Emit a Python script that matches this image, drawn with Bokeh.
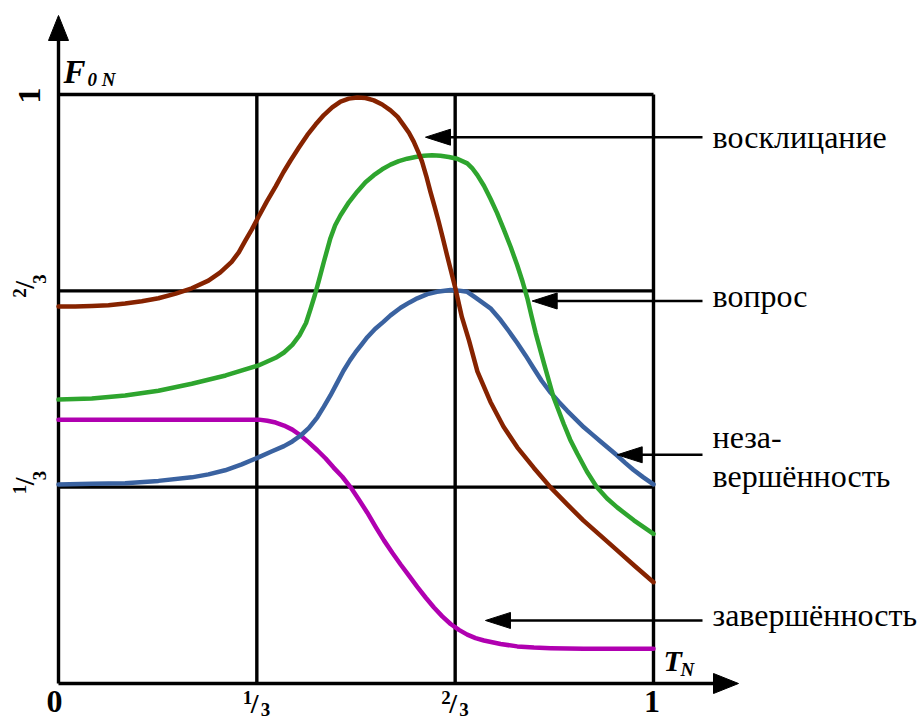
import math
from bokeh.plotting import figure
from bokeh.models import Range1d
from bokeh.core.properties import value
from bokeh.embed import file_html
from bokeh.resources import INLINE

# ---------------- data (normalised time T_N, normalised F0_N) ----------------
excl_t = [0.0, 0.028, 0.056, 0.084, 0.112, 0.140, 0.168, 0.197, 0.224, 0.252, 0.272,
          0.291, 0.303, 0.314, 0.325, 0.336, 0.350, 0.365, 0.378, 0.390, 0.404, 0.418,
          0.432, 0.446, 0.460, 0.474, 0.488, 0.502, 0.516, 0.530, 0.544, 0.558, 0.570,
          0.580, 0.589, 0.597, 0.604, 0.611, 0.618, 0.625, 0.632, 0.639, 0.646, 0.653,
          0.660, 0.667, 0.678, 0.690, 0.704, 0.726, 0.748, 0.771, 0.799, 0.827, 0.855,
          0.882, 0.911, 0.939, 0.969, 1.0]
excl_v = [0.640, 0.640, 0.641, 0.642, 0.645, 0.649, 0.654, 0.662, 0.671, 0.684, 0.698,
          0.716, 0.732, 0.752, 0.771, 0.792, 0.818, 0.844, 0.868, 0.888, 0.910, 0.931,
          0.949, 0.965, 0.978, 0.988, 0.993, 0.995, 0.994, 0.990, 0.983, 0.973, 0.962,
          0.948, 0.935, 0.920, 0.904, 0.886, 0.862, 0.835, 0.810, 0.784, 0.756, 0.727,
          0.699, 0.671, 0.622, 0.582, 0.530, 0.478, 0.436, 0.401, 0.366, 0.333, 0.304,
          0.277, 0.251, 0.226, 0.199, 0.172]

quest_t = [0.0, 0.056, 0.112, 0.168, 0.224, 0.281, 0.336, 0.365, 0.379, 0.393, 0.405,
           0.416, 0.424, 0.431, 0.437, 0.446, 0.457, 0.465, 0.474, 0.488, 0.502, 0.516,
           0.530, 0.544, 0.558, 0.572, 0.586, 0.600, 0.614, 0.628, 0.642, 0.656, 0.670,
           0.687, 0.696, 0.704, 0.715, 0.726, 0.737, 0.748, 0.760, 0.771, 0.780, 0.788,
           0.795, 0.802, 0.816, 0.832, 0.849, 0.860, 0.872, 0.888, 0.905, 0.922, 0.939,
           0.967, 1.0]
quest_v = [0.482, 0.484, 0.489, 0.497, 0.509, 0.523, 0.540, 0.553, 0.562, 0.575, 0.591,
           0.612, 0.637, 0.660, 0.682, 0.716, 0.756, 0.778, 0.795, 0.817, 0.835, 0.851,
           0.863, 0.873, 0.881, 0.887, 0.891, 0.894, 0.896, 0.897, 0.896, 0.894, 0.891,
           0.883, 0.874, 0.863, 0.845, 0.823, 0.799, 0.772, 0.741, 0.710, 0.682, 0.654,
           0.624, 0.595, 0.543, 0.486, 0.441, 0.414, 0.390, 0.360, 0.333, 0.314, 0.299,
           0.277, 0.254]

incompl_t = [0.0, 0.056, 0.112, 0.168, 0.224, 0.252, 0.280, 0.308, 0.336, 0.358, 0.379,
             0.393, 0.407, 0.421, 0.435, 0.446, 0.457, 0.468, 0.479, 0.490, 0.499, 0.509,
             0.519, 0.532, 0.546, 0.558, 0.575, 0.590, 0.603, 0.620, 0.636, 0.659, 0.673,
             0.687, 0.701, 0.715, 0.726, 0.743, 0.757, 0.771, 0.785, 0.798, 0.812, 0.827,
             0.841, 0.855, 0.869, 0.883, 0.897, 0.911, 0.925, 0.939, 0.952, 0.966, 0.983,
             1.0]
incompl_v = [0.338, 0.339, 0.340, 0.344, 0.350, 0.355, 0.362, 0.372, 0.384, 0.394, 0.403,
             0.411, 0.421, 0.434, 0.452, 0.470, 0.489, 0.510, 0.531, 0.549, 0.562, 0.575,
             0.588, 0.602, 0.614, 0.625, 0.638, 0.647, 0.654, 0.661, 0.665, 0.668, 0.667,
             0.665, 0.655, 0.645, 0.637, 0.617, 0.598, 0.578, 0.557, 0.536, 0.514, 0.494,
             0.478, 0.463, 0.449, 0.435, 0.423, 0.411, 0.399, 0.387, 0.375, 0.363, 0.350,
             0.338]

compl_t = [0.0, 0.155, 0.250, 0.323, 0.337, 0.351, 0.365, 0.379, 0.393, 0.407, 0.421,
           0.435, 0.449, 0.462, 0.477, 0.491, 0.505, 0.519, 0.533, 0.547, 0.561, 0.575,
           0.589, 0.603, 0.617, 0.631, 0.645, 0.659, 0.673, 0.687, 0.701, 0.715, 0.729,
           0.743, 0.771, 0.799, 0.827, 0.883, 1.0]
compl_v = [0.448, 0.448, 0.448, 0.448, 0.448, 0.446, 0.443, 0.438, 0.431, 0.421, 0.409,
           0.396, 0.382, 0.367, 0.351, 0.333, 0.312, 0.290, 0.266, 0.243, 0.222, 0.202,
           0.183, 0.164, 0.146, 0.129, 0.114, 0.101, 0.091, 0.083, 0.077, 0.073, 0.070,
           0.067, 0.063, 0.061, 0.060, 0.059, 0.059]

grid_vals = [1/3, 2/3, 1.0]
frac_ticks = [1/3, 2/3]
frac_num = ["1", "2"]
frac_den = ["3", "3"]

# annotations: arrow level (F0_N), arrow tip (T_N), label lines
ann_level = [0.9275, 0.6494, 0.3883, 0.1070]
ann_tip = [0.6168, 0.7961, 0.9390, 0.7176]
ann_lines = [["восклицание"], ["вопрос"], ["неза-", "вершённость"], ["завершённость"]]
ann_line_dy = [[10], [6], [-7.6, 31.7], [5]]   # baseline offsets (px) from arrow level

colors = {"excl": "#862300", "quest": "#2ea52e", "incompl": "#3a62a0", "compl": "#b000b0"}

# ---------------- figure ----------------
W, H = 921, 720
PXX, PXY = 595.0, 589.0     # pixels per unit
OX, OY = 58, 683            # canvas px of the origin (from left / from top)
SX, SY = 1 / PXX, 1 / PXY
K_BASE = 0.33               # correction: renderer anchors text ~0.33 em above baseline

p = figure(width=W, height=H, output_backend="svg", toolbar_location=None,
           x_range=Range1d(-OX / PXX, (W - OX) / PXX),
           y_range=Range1d(-(H - OY) / PXY, OY / PXY),
           x_axis_type=None, y_axis_type=None, outline_line_color=None,
           min_border=0, min_border_left=0, min_border_right=0,
           min_border_top=0, min_border_bottom=0, background_fill_color="white")
p.xgrid.visible = False
p.ygrid.visible = False

FONT = value("Liberation Serif")


def txt(x, y, s, size, style="bold", dx=0, dy=0, angle=0.0, align="left",
        baseline="alphabetic"):
    if angle == 0.0:
        dy = dy - K_BASE * size
    else:
        dx = dx - K_BASE * size
    p.text(x=[x], y=[y], text=[s], text_font=FONT, text_font_size=value(f"{size}px"),
           text_font_style=value(style), text_align=value(align),
           text_baseline=value(baseline), x_offset=dx, y_offset=dy, angle=angle,
           text_color="black")


LW_GRID = 3.4
# grid lines
for g in grid_vals:
    p.line([0, 1], [g, g], line_color="black", line_width=LW_GRID)
    p.line([g, g], [0, 1], line_color="black", line_width=LW_GRID)

# axes with arrows
x_tip = 1.0 + 85 * SX
y_tip = 1.0 + 79 * SY
p.line([0, x_tip - 25 * SX], [0, 0], line_color="black", line_width=LW_GRID)
p.line([0, 0], [0, y_tip - 25 * SY], line_color="black", line_width=LW_GRID)
p.patch([x_tip, x_tip - 25 * SX, x_tip - 25 * SX], [0, 10 * SY, -10 * SY], color="black")
p.patch([0, -10 * SX, 10 * SX], [y_tip, y_tip - 25 * SY, y_tip - 25 * SY], color="black")

# curves
LW = 4.5
p.line(compl_t, compl_v, line_color=colors["compl"], line_width=LW, line_cap="round", line_join="round")
p.line(incompl_t, incompl_v, line_color=colors["incompl"], line_width=LW, line_cap="round", line_join="round")
p.line(quest_t, quest_v, line_color=colors["quest"], line_width=LW, line_cap="round", line_join="round")
p.line(excl_t, excl_v, line_color=colors["excl"], line_width=LW, line_cap="round", line_join="round")

# annotation arrows and labels
ann_end = 1.0 + 49 * SX
ann_text_x = 1.0 + 59 * SX
for lvl, tip, lines, dys in zip(ann_level, ann_tip, ann_lines, ann_line_dy):
    p.line([tip + 24 * SX, ann_end], [lvl, lvl], line_color="black", line_width=2.6)
    p.patch([tip, tip + 25 * SX, tip + 25 * SX], [lvl, lvl + 8 * SY, lvl - 8 * SY], color="black")
    for s, d in zip(lines, dys):
        txt(ann_text_x, lvl, s, 32, style="normal", dy=d)

# x tick labels (kept just inside the bottom edge)
txt(0, 0, "0", 32, dx=-4, dy=29, align="center")
txt(1, 0, "1", 32, dx=-1.5, dy=29, align="center")
for t, n, d in zip(frac_ticks, frac_num, frac_den):
    txt(t, 0, n, 19, dx=-14, dy=20)
    txt(t, 0, "/", 28, dx=-6, dy=29)
    txt(t, 0, d, 19, dx=4, dy=32)

# y tick labels (rotated)
R = math.pi / 2
txt(0, 1, "1", 32, dx=-18, dy=1, angle=R, align="center")
for v, n, d in zip(frac_ticks, frac_num, frac_den):
    txt(0, v, n, 19, dx=-33, dy=7, angle=R)
    txt(0, v, "/", 28, dx=-25, dy=-2, angle=R)
    txt(0, v, d, 19, dx=-13, dy=-7, angle=R)

# axis names
txt(0, 1, "F", 33, style="bold italic", dx=5, dy=-12)
txt(0, 1, "0 N", 19, style="bold italic", dx=29, dy=-9)
txt(1, 0, "T", 30, style="bold italic", dx=10, dy=-13)
txt(1, 0, "N", 19, style="bold italic", dx=27, dy=-8)

open("out.html", "w").write(file_html(p, INLINE))
